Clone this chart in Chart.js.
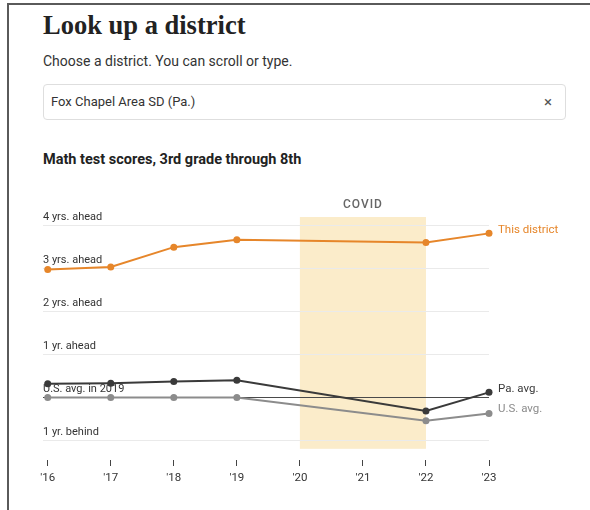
<!DOCTYPE html>
<html>
<head>
<meta charset="utf-8">
<script src="https://cdn.jsdelivr.net/npm/chart.js@4"></script>
<style>
  body { margin: 0; background: #fff; width: 590px; height: 510px; overflow: hidden; position: relative; font-family: Roboto, "Liberation Sans", sans-serif; color: #333; }
  .frame { position: absolute; left: 7px; top: 3px; right: 0; bottom: 0; border-top: 2px solid #5a5a5a; border-left: 2px solid #5a5a5a; }
  h1 { position: absolute; left: 43px; top: 10px; margin: 0; font-family: "Liberation Serif", serif; font-weight: bold; font-size: 26.5px; color: #222; }
  .sub { position: absolute; left: 43px; top: 53px; font-size: 14px; color: #333; }
  .box { position: absolute; left: 43px; top: 84px; width: 523px; height: 36px; border: 1px solid #dedede; border-radius: 4px; box-sizing: border-box; }
  .box span { position: absolute; left: 7px; top: 9px; font-size: 13px; color: #333; }
  .box b { position: absolute; right: 13px; top: 8px; font-size: 15px; font-weight: normal; color: #555; }
  .ttl { position: absolute; left: 43px; top: 151px; font-size: 14.5px; font-weight: bold; color: #222; }
  canvas { position: absolute; left: 0; top: 180px; }
</style>
</head>
<body>
<div class="frame"></div>
<h1>Look up a district</h1>
<div class="sub">Choose a district. You can scroll or type.</div>
<div class="box"><span>Fox Chapel Area SD (Pa.)</span><b>×</b></div>
<div class="ttl">Math test scores, 3rd grade through 8th</div>
<canvas id="grafico" width="590" height="330"></canvas>
<script>
const anos = [2016, 2017, 2018, 2019, 2020, 2021, 2022, 2023];
const distrito = [2.97, 3.03, 3.49, 3.66, null, null, 3.60, 3.81];
const mediaPa = [0.32, 0.33, 0.37, 0.40, null, null, -0.31, 0.12];
const mediaUS = [0, 0, 0, 0, null, null, -0.54, -0.37];
const niveis = [-1, 0, 1, 2, 3, 4];
const rotulosNiveis = ['1 yr. behind', 'U.S. avg. in 2019', '1 yr. ahead', '2 yrs. ahead', '3 yrs. ahead', '4 yrs. ahead'];
const covid = [2020, 2022];

const pontos = vals => anos.map((a, i) => ({ x: a, y: vals[i] })).filter(p => p.y !== null);

const series = [
    { label: 'U.S. avg.', data: mediaUS, cor: '#8c8c8c', dy: -4 },
    { label: 'Pa. avg.', data: mediaPa, cor: '#3a3a3a', dy: -3 },
    { label: 'This district', data: distrito, cor: '#e6862a', dy: -3 }
];

const faixaCovid = {
    id: 'faixaCovid',
    beforeDraw(chart) {
        const { ctx, scales: { x, y } } = chart;
        const x1 = x.getPixelForValue(covid[0]);
        const x2 = x.getPixelForValue(covid[1]);
        const y1 = y.getPixelForValue(4.19);
        const y2 = y.getPixelForValue(-1.19);
        ctx.save();
        ctx.fillStyle = '#fbecca';
        ctx.fillRect(x1, y1, x2 - x1, y2 - y1);
        ctx.fillStyle = '#666';
        ctx.font = '500 12px Roboto';
        ctx.textAlign = 'center';
        ctx.textBaseline = 'middle';
        if ('letterSpacing' in ctx) ctx.letterSpacing = '1px';
        ctx.fillText('COVID', (x1 + x2) / 2, y1 - 12);
        ctx.restore();
    }
};

const rotulosFinais = {
    id: 'rotulosFinais',
    afterDatasetsDraw(chart) {
        const { ctx } = chart;
        ctx.save();
        ctx.font = '11.5px Roboto';
        ctx.textBaseline = 'middle';
        chart.data.datasets.forEach((ds, i) => {
            const meta = chart.getDatasetMeta(i);
            const ult = meta.data[meta.data.length - 1];
            ctx.fillStyle = series[i].cor;
            ctx.fillText(ds.label, ult.x + 9, ult.y + series[i].dy);
        });
        ctx.restore();
    }
};

new Chart(document.getElementById('grafico').getContext('2d'), {
    type: 'line',
    data: {
        datasets: series.map(s => ({
            label: s.label,
            data: pontos(s.data),
            borderColor: s.cor,
            backgroundColor: s.cor,
            borderWidth: 2,
            pointRadius: 3.5,
            pointBorderWidth: 0,
            clip: false
        }))
    },
    options: {
        responsive: false,
        animation: false,
        layout: { padding: { left: 43, right: 101, top: 37, bottom: 0 } },
        plugins: { legend: { display: false }, tooltip: { enabled: false } },
        scales: {
            x: {
                type: 'linear',
                min: 2015.925,
                max: 2023,
                afterBuildTicks: s => { s.ticks = anos.map(v => ({ value: v })); },
                afterFit: s => { s.height = 50; },
                border: { display: false },
                grid: { drawOnChartArea: false, drawTicks: true, tickLength: 6, tickColor: '#444', lineWidth: 1 },
                ticks: {
                    padding: 5,
                    color: '#333',
                    font: { family: 'Roboto', size: 11.5 },
                    maxRotation: 0,
                    autoSkip: false,
                    callback: v => "'" + String(v).slice(2)
                }
            },
            y: {
                min: -1.45,
                max: 4.19,
                afterBuildTicks: s => { s.ticks = niveis.map(v => ({ value: v })); },
                afterFit: s => { s.width = 0; },
                border: { display: false },
                grid: {
                    drawTicks: false,
                    color: c => (c.tick && c.tick.value === 0) ? '#4a4a4a' : '#eaeaea',
                    lineWidth: 1
                },
                ticks: {
                    mirror: true,
                    padding: 0,
                    labelOffset: -8,
                    color: '#333',
                    font: { family: 'Roboto', size: 11 },
                    callback: v => rotulosNiveis[niveis.indexOf(v)]
                }
            }
        }
    },
    plugins: [faixaCovid, rotulosFinais]
});
</script>
</body>
</html>
